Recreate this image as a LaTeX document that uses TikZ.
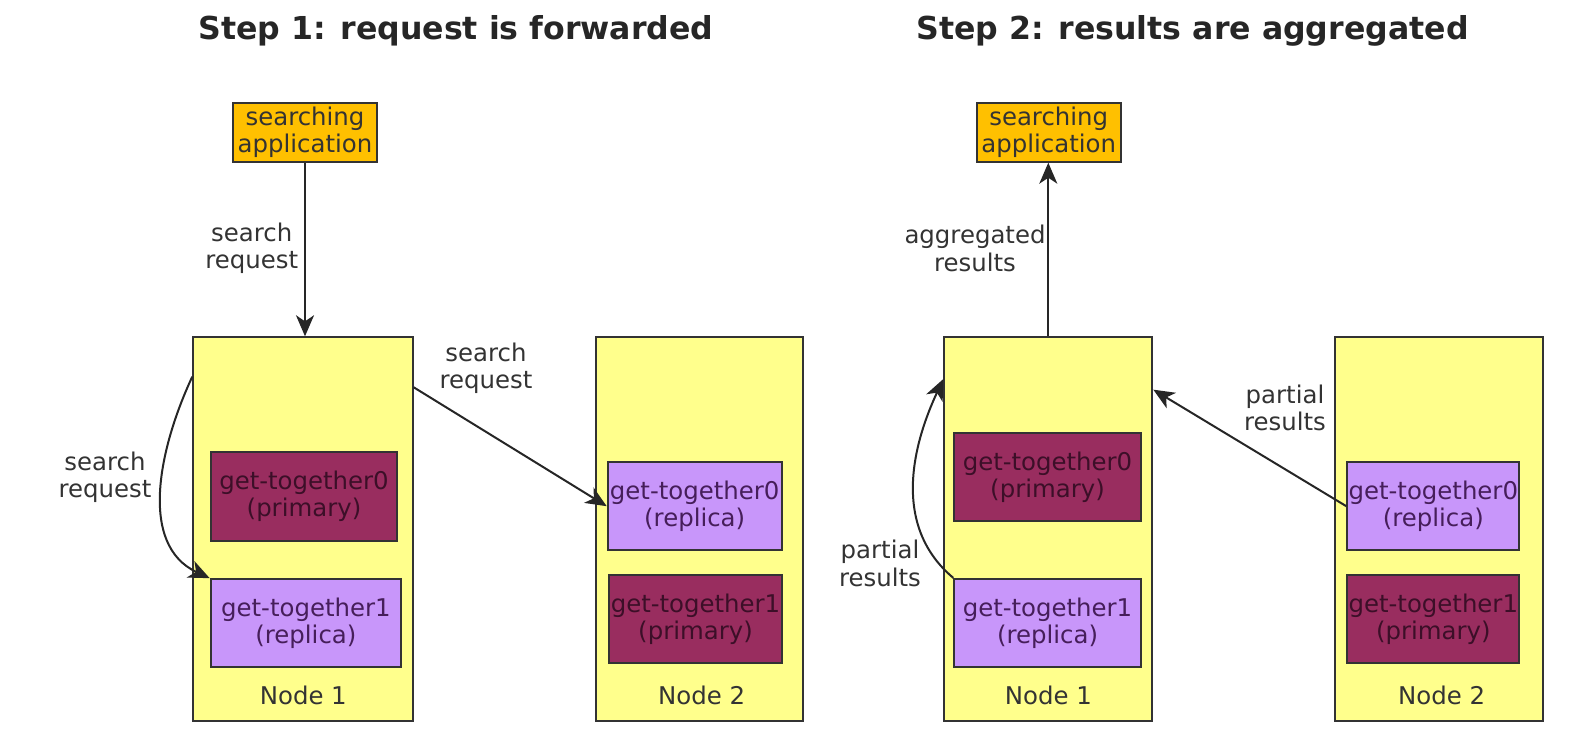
\documentclass[tikz,border=0pt]{standalone}
\usepackage{fontspec}
\setmainfont{DejaVu Sans}
\usetikzlibrary{arrows.meta}
\definecolor{appcol}{RGB}{255,192,0}
\definecolor{nodecol}{RGB}{255,255,140}
\definecolor{primcol}{RGB}{153,45,95}
\definecolor{replcol}{RGB}{200,150,250}
\definecolor{inkcol}{RGB}{51,51,51}
\tikzset{
  app/.style={draw=inkcol, fill=appcol, line width=1pt, align=center, inner sep=0pt,
    minimum width=72pt, minimum height=29.2pt, text=inkcol},
  esnode/.style={draw=inkcol, fill=nodecol, line width=1pt, inner sep=0pt, minimum height=191.7pt},
  primary/.style={draw=inkcol, fill=primcol, line width=1pt, align=center, inner sep=0pt,
    minimum height=44.2pt, text={rgb,255:red,60;green,15;blue,40}},
  replica/.style={draw=inkcol, fill=replcol, line width=1pt, align=center, inner sep=0pt,
    minimum height=44pt, text={rgb,255:red,70;green,30;blue,90}},
  lbl/.style={align=center, text=inkcol},
  steptitle/.style={font=\fontsize{15.8}{18}\selectfont\bfseries, text=black!85},
  conn/.style={->, >={Stealth[length=10.5pt,width=9pt,inset=3pt]}, line width=1pt, draw=black!85}
}
\begin{document}
\begin{tikzpicture}[x=0.5pt, y=-0.5pt, font=\fontsize{12.2}{13.6}\selectfont]
\useasboundingbox (0,0) rectangle (1590,744);

% step 1
\node[steptitle] (title1) at (456,31) {Step 1: request is forwarded};
\node[app] (appL) at (305,132.5) {searching\\application};
\node[esnode, minimum width=109.7pt] (n1L) at (303,529) {};
\node[esnode, minimum width=103.7pt] (n2L) at (699.7,529) {};
\node[primary, minimum width=93.3pt] (p0L) at (304,496.5) {get-together0\\(primary)};
\node[replica, minimum width=95.2pt] (r1L) at (305.9,623.2) {get-together1\\(replica)};
\node[replica, minimum width=87pt] (r0L) at (694.7,506.2) {get-together0\\(replica)};
\node[primary, minimum width=86.2pt] (p1L) at (695.5,618.9) {get-together1\\(primary)};
\node[lbl] (n1Llbl) at (303.3,695) {Node 1};
\node[lbl] (n2Llbl) at (701.7,695) {Node 2};

\draw[conn] (appL.south) -- (appL.south |- n1L.north);
\node[lbl] (reqA) at (251.7,248.3) {search\\request};
\draw[conn] (n1L.126.2) to[out=245,in=155] (r1L.north west);
\node[lbl] (reqB) at (105,477) {search\\request};
\draw[conn] (n1L.52) -- (r0L.west);
\node[lbl] (reqC) at (486,368.3) {search\\request};

% step 2
\node[steptitle] (title2) at (1192.6,31) {Step 2: results are aggregated};
\node[app] (appR) at (1048.7,132.5) {searching\\application};
\node[esnode, minimum width=104pt] (n1R) at (1048.3,529) {};
\node[esnode, minimum width=104.2pt] (n2R) at (1439.2,529) {};
\node[primary, minimum width=93.2pt] (p0R) at (1047.5,476.9) {get-together0\\(primary)};
\node[replica, minimum width=93.2pt] (r1R) at (1047.5,622.9) {get-together1\\(replica)};
\node[replica, minimum width=86pt] (r0R) at (1433.3,506.2) {get-together0\\(replica)};
\node[primary, minimum width=86pt] (p1R) at (1433.3,618.9) {get-together1\\(primary)};
\node[lbl] (n1Rlbl) at (1048.3,695) {Node 1};
\node[lbl] (n2Rlbl) at (1441.7,695) {Node 2};

\draw[conn] (n1R.north) -- (n1R.north |- appR.south);
\node[lbl] (aggA) at (975,248.3) {aggregated\\results};
\draw[conn] (r1R.north west) to[out=140,in=245] (n1R.125.5);
\node[lbl] (partA) at (880,563.3) {partial\\results};
\draw[conn] (r0R.west) -- (n1R.53.7);
\node[lbl] (partB) at (1285,407.8) {partial\\results};
\end{tikzpicture}
\end{document}
